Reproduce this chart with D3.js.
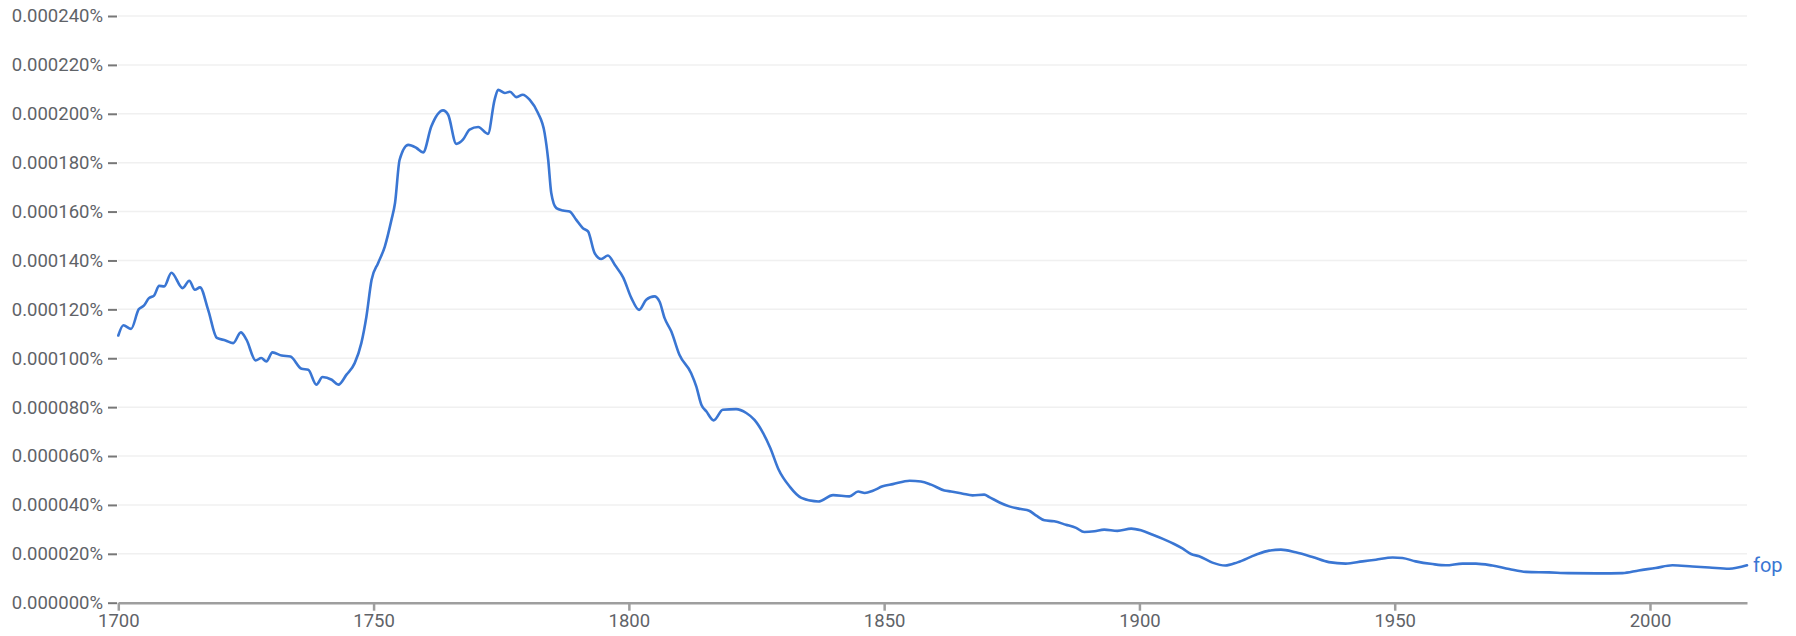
<!DOCTYPE html>
<html><head><meta charset="utf-8">
<script src="https://cdn.jsdelivr.net/npm/d3@7"></script>
<style>
html,body{margin:0;padding:0;background:#fff;}
svg{display:block;font-family:Roboto,"Noto Sans",Arial,sans-serif;}
</style></head>
<body>
<svg id="chart" width="1796" height="636"></svg>
<script>
// values in units of 0.000001 %
const years = [1700,1701,1702.5,1704,1705,1706,1707,1708,1709,1710.4,1712.6,1713.9,1715,1716,1717.6,1719.3,1721,1722.5,1724,1725.1,1726.9,1728,1729,1730.2,1732,1733.7,1735.9,1737.2,1738.8,1740,1741.8,1743.1,1744.7,1746.3,1747.6,1748.6,1749.6,1750.9,1752.2,1753.5,1754.2,1755.1,1756.8,1758.4,1759.7,1761.3,1763.6,1764.6,1766.2,1767.5,1768.8,1770.5,1772.4,1773.7,1774.4,1775.7,1776.7,1778,1779.2,1780.6,1782.2,1783.5,1784.2,1784.8,1785.8,1787.1,1788.4,1789.7,1791,1792,1793.3,1794.6,1795.9,1797.3,1798.9,1800.5,1802,1803.4,1805,1806,1807,1808.3,1809.9,1812.2,1813.2,1814.2,1815.2,1816.6,1818.4,1821,1823,1824.6,1826.3,1827.7,1829.3,1831.5,1833.8,1837.1,1840,1843.2,1844.9,1846.2,1847.8,1849.7,1851.7,1855,1857.2,1859.2,1861.8,1863.1,1865.4,1867.3,1869.6,1870.6,1872.6,1874.5,1876.8,1878.4,1879.8,1881.4,1883.3,1885.6,1887.6,1889.2,1891.2,1893.1,1895.7,1898.4,1900.3,1902.6,1904.6,1906.8,1908.5,1910.1,1911.7,1914.3,1916.8,1919.2,1922.8,1925.4,1927.7,1930.6,1933.9,1937.1,1940.4,1943.7,1946.3,1949.6,1951.5,1954.1,1957.4,1960,1963.3,1965.9,1969.1,1972.4,1975.7,1980.2,1984,1990,1994.6,1997.8,2001.1,2004.4,2008.3,2011.6,2015.5,2019];
const fopValues = [109.3,113.5,112,120,121.5,124.6,125.6,129.6,129.4,135,128.7,131.7,128,129,119.8,108.3,107.3,106.2,110.6,107.6,99.1,100.1,98.7,102.4,101.1,100.7,95.7,95.3,89.2,92.3,91.2,89.2,93.3,98,106.2,117.1,132,139,145.7,156.6,163.5,181.2,187.3,186,184.2,194.8,201.4,199.6,187.7,189.4,193.5,194.6,191.8,205.7,209.8,208.5,209,206.8,207.8,205.7,200.3,192.1,181.2,167.6,161.4,160.4,160,156.6,153.2,151.9,143,140.6,142,138,133,124.6,119.8,123.9,125.3,123.2,116.4,111,101.4,93.9,88.5,81,78.2,74.6,78.9,79.2,77.6,74.8,69.4,63.3,54.6,47.5,42.9,41.4,44,43.5,45.5,44.9,45.8,47.6,48.5,49.9,49.6,48.3,45.9,45.5,44.6,43.9,44.2,43.2,41,39.4,38.3,37.6,35.6,33.7,33.3,31.9,30.6,28.9,29.2,29.9,29.4,30.3,29.6,27.8,26.1,24,22.1,19.9,19,16.4,15.2,16.5,19.6,21.3,21.7,20.6,18.7,16.6,16,16.9,17.6,18.5,18.3,16.9,15.8,15.3,16,16,15.2,13.8,12.6,12.4,12.1,12,12.1,13.2,14.2,15.3,14.8,14.4,13.9,15.3];
const yTicks = [0,20,40,60,80,100,120,140,160,180,200,220,240];
const xTicks = [1700,1750,1800,1850,1900,1950,2000];
const seriesName = "fop";

const svg = d3.select("#chart");
const x = d3.scaleLinear().domain([1700,2019]).range([118.3,1747]);
const y = d3.scaleLinear().domain([0,240]).range([602.7,16]);
const lineColor = "#3a76d3";
const textColor = "#5f6368";

// gridlines
svg.append("g").selectAll("line").data(yTicks.filter(d=>d>0)).join("line")
  .attr("x1",118).attr("x2",1747)
  .attr("y1",d=>y(d)).attr("y2",d=>y(d))
  .attr("stroke","#f0f0f0").attr("stroke-width",1.5);

// y axis
const yAxis = d3.axisLeft(y).tickValues(yTicks).tickSize(9).tickPadding(5)
  .tickFormat(d=>(d*1e-6).toFixed(6)+"%");
const gy = svg.append("g").attr("transform","translate(117,0)").call(yAxis);
gy.select(".domain").remove();
gy.selectAll(".tick line").attr("stroke","#777").attr("stroke-width",2);
gy.selectAll("text").attr("fill",textColor).style("font-size","18.5px").style("font-family","Roboto");

// x axis
const xAxis = d3.axisBottom(x).tickValues(xTicks).tickSize(8).tickSizeOuter(0).tickPadding(3).tickFormat(d3.format("d"));
const gx = svg.append("g").attr("transform","translate(0,602.7)").call(xAxis);
gx.select(".domain").attr("stroke","#9e9e9e").attr("stroke-width",2.5);
gx.selectAll(".tick line").attr("stroke","#9e9e9e").attr("stroke-width",2.5);
gx.selectAll("text").attr("fill",textColor).style("font-size","18.5px").style("font-family","Roboto");

// line
const data = years.map((yr,i)=>({yr, v:fopValues[i]}));
const line = d3.line().x(d=>x(d.yr)).y(d=>y(d.v)).curve(d3.curveMonotoneX);
svg.append("path").datum(data).attr("d",line)
  .attr("fill","none").attr("stroke",lineColor).attr("stroke-width",2.6)
  .attr("stroke-linejoin","round").attr("stroke-linecap","round");

// series label
const last = data[data.length-1];
svg.append("text").attr("x",x(last.yr)+6).attr("y",y(last.v))
  .attr("dy","0.32em").attr("fill",lineColor)
  .style("font-size","20px").style("font-family","Roboto").text(seriesName);
</script>
</body></html>
